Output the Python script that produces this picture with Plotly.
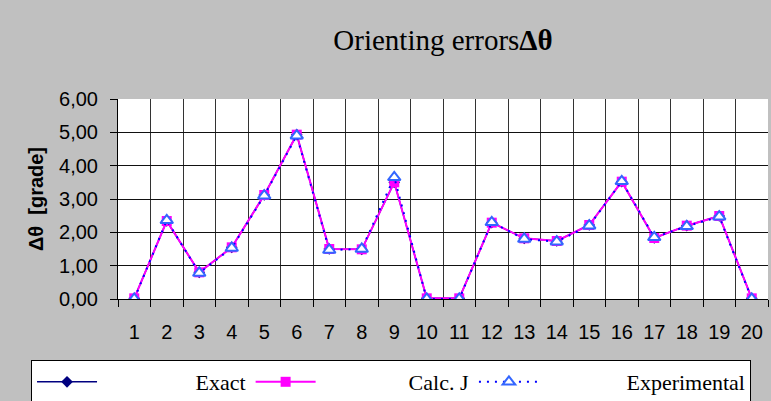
import plotly.graph_objects as go

categories = [str(i) for i in range(1, 21)]
exact = [0.02, 2.34, 0.80, 1.55, 3.12, 4.93, 1.50, 1.49, 3.50, 0.02,
         0.02, 2.29, 1.82, 1.74, 2.22, 3.52, 1.83, 2.20, 2.49, 0.02]
calc_j = [0.02, 2.34, 0.80, 1.55, 3.12, 4.93, 1.50, 1.49, 3.50, 0.02,
          0.02, 2.29, 1.82, 1.74, 2.22, 3.52, 1.83, 2.20, 2.49, 0.02]
experimental = [0.00, 2.36, 0.78, 1.53, 3.10, 4.90, 1.47, 1.50, 3.65, 0.00,
                0.00, 2.30, 1.80, 1.72, 2.20, 3.53, 1.85, 2.18, 2.47, 0.00]
y_ticks = [0, 1, 2, 3, 4, 5, 6]

NB = "\u00a0"

fig = go.Figure()
fig.add_trace(go.Scatter(
    x=categories, y=exact, name=NB * 17 + "Exact", mode="lines+markers",
    line=dict(color="#000080", width=1.5),
    marker=dict(symbol="diamond", size=9, color="#000080")))
fig.add_trace(go.Scatter(
    x=categories, y=calc_j, name=NB * 16 + "Calc. J", mode="lines+markers",
    line=dict(color="#ff00ff", width=2),
    marker=dict(symbol="square", size=10, color="#ff00ff")))
fig.add_trace(go.Scatter(
    x=categories, y=experimental, name=NB * 15 + "Experimental<br>" + NB * 15 + "deviations",
    mode="lines+markers",
    line=dict(color="#0000ff", width=2, dash="2px,6px"),
    marker=dict(symbol="triangle-up", size=11, color="white",
                line=dict(color="#3366ff", width=2))))

fig.update_layout(
    width=771, height=401,
    paper_bgcolor="#c0c0c0", plot_bgcolor="white",
    margin=dict(l=118, r=3, t=99, b=102, autoexpand=False),
    separators=", ",
    title=dict(text="Orienting errors<b>Δθ</b>", x=0.5, xref="paper",
               y=0.9, yanchor="middle",
               font=dict(family="Liberation Serif", size=29, color="black")),
    font=dict(family="Liberation Sans", size=20, color="black"),
    showlegend=True,
    legend=dict(orientation="h", x=-0.1338, xanchor="left", y=-0.305, yanchor="top",
                bgcolor="white", bordercolor="black", borderwidth=1,
                font=dict(family="Liberation Serif", size=22, color="black"),
                itemwidth=60, valign="top", traceorder="normal"),
)
fig.update_xaxes(
    type="category", range=[-0.5, 19.5], tickson="boundaries", tickangle=0,
    ticks="outside", ticklen=7, tickcolor="black", ticklabelstandoff=15,
    showgrid=True, gridcolor="#333333", gridwidth=1,
    showline=True, linecolor="black", linewidth=1,
    tickfont=dict(family="Liberation Sans", size=20), zeroline=False)
fig.update_yaxes(
    range=[0, 6], tickvals=y_ticks, tickformat=".2f",
    ticks="outside", ticklen=7, tickcolor="black", ticklabelstandoff=8,
    showgrid=True, gridcolor="#111111", gridwidth=1,
    showline=True, linecolor="black", linewidth=1, zeroline=False,
    tickfont=dict(family="Liberation Sans", size=20),
    title=dict(text="<b>Δθ  [grade]</b>", standoff=10,
               font=dict(family="Liberation Sans", size=20)))

fig.write_html("out.html", config={"displayModeBar": False},
               post_script="document.body.style.margin='0';")
